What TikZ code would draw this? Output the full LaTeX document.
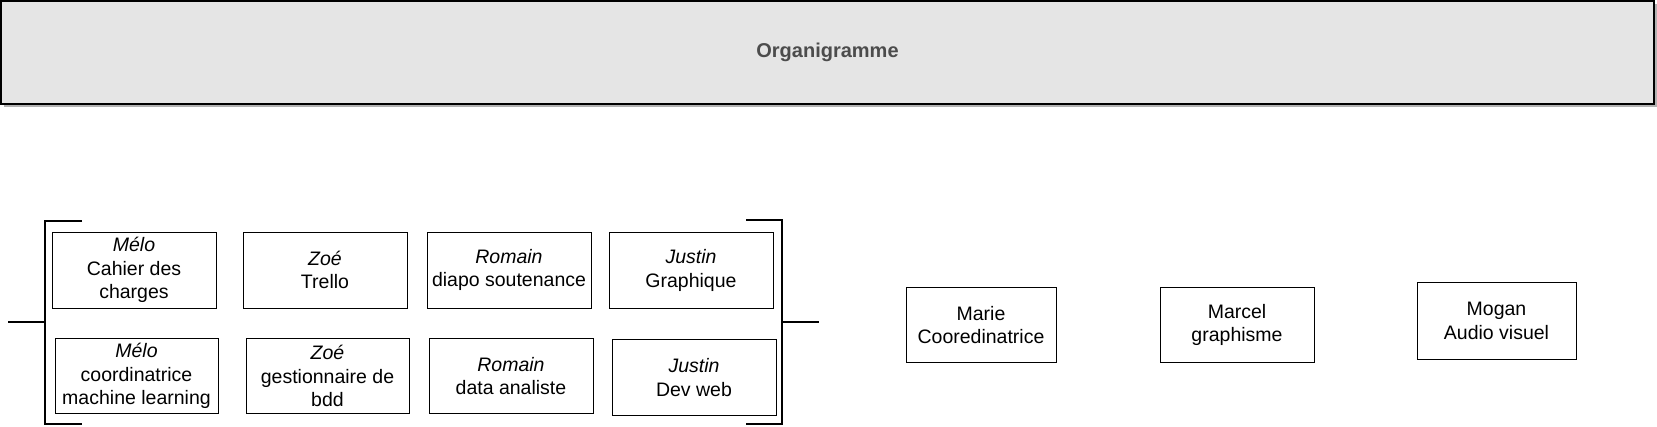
\documentclass[tikz,border=0pt]{standalone}
\usepackage{fontspec}
\setmainfont{Liberation Sans}
\usepackage{tikz}

\begin{document}
\begin{tikzpicture}[x=1pt,y=-1pt,
  role/.style={draw,line width=1pt,inner sep=0pt,align=center,minimum width=164pt,minimum height=76pt,font=\fontsize{19.5}{23.8}\selectfont},
  brace/.style={line width=2pt}]
  \useasboundingbox (0,0) rectangle (1657,426);
  \fill[black!30] (4,4) rectangle (1657,107);
  \node (title) at (827.5,52.5) [draw,line width=1.3pt,fill=black!10,minimum width=1653pt,minimum height=103pt,text=black!70,font=\fontsize{20}{24}\selectfont\bfseries] {Organigramme};

  \node (melo1) at (134,270) [role] {\textit{Mélo}\\Cahier des\\charges};
  \node (zoe1) at (325,270) [role] {\textit{Zoé}\\Trello};
  \node (romain1) at (509,270) [role] {\textit{Romain}\\diapo soutenance};
  \node (justin1) at (691,270.5) [role] {\textit{Justin}\\Graphique};
  \node (melo2) at (136.5,376) [role,minimum width=163pt,minimum height=75pt] {\textit{Mélo}\\coordinatrice\\machine learning};
  \node (zoe2) at (327.5,376) [role,minimum width=163pt,minimum height=75pt] {\textit{Zoé}\\gestionnaire de\\bdd};
  \node (romain2) at (511,376) [role,minimum height=75pt] {\textit{Romain}\\data analiste};
  \node (justin2) at (694,377.5) [role] {\textit{Justin}\\Dev web};

  \node (marie) at (981,325) [role,minimum width=150pt,minimum height=75pt] {Marie\\Cooredinatrice};
  \node (marcel) at (1237,325) [role,minimum width=154pt,minimum height=75pt] {Marcel\\graphisme};
  \node (mogan) at (1496.5,321) [role,minimum width=159pt,minimum height=77pt] {Mogan\\Audio visuel};

  % crochets
  \coordinate (lin) at (8,322);
  \coordinate (lmid) at (45,322);
  \coordinate (rmid) at (782,322);
  \coordinate (rout) at (819,322);
  \draw[brace] (82,221) -- (45,221) -- (45,424) -- (82,424);
  \draw[brace] (lin) -- (lmid);
  \draw[brace] (746,220) -- (782,220) -- (782,424) -- (746,424);
  \draw[brace] (rmid) -- (rout);
\end{tikzpicture}
\end{document}
